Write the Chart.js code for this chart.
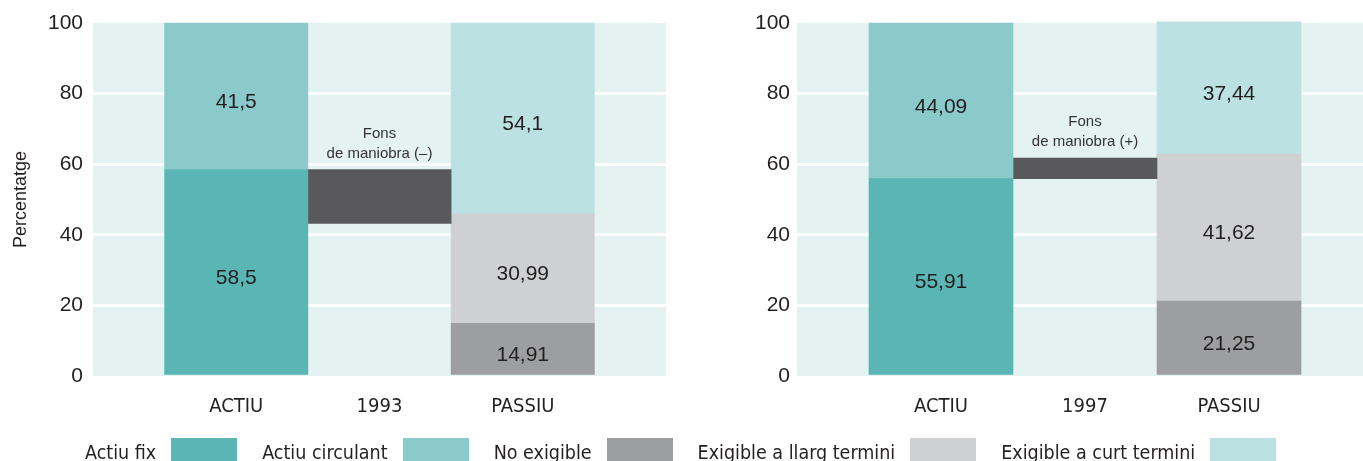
<!DOCTYPE html>
<html>
<head>
<meta charset="utf-8">
<script src="https://cdn.jsdelivr.net/npm/chart.js@4.4.0/dist/chart.umd.min.js"></script>
<style>
html, body { margin:0; padding:0; background:#fff; overflow:hidden; width:1363px; height:461px; }
#c1 { position:absolute; left:0; top:0; }
#c2 { position:absolute; left:700px; top:0; }
#legend { position:absolute; left:85px; top:438px; display:flex; align-items:center;
  font-family:"Liberation Sans Narrow","DejaVu Sans Condensed",sans-serif; font-size:19.5px; color:#231f20; white-space:nowrap; }
.item { display:flex; align-items:center; margin-right:25px; }
.box { width:66px; height:28px; margin-left:15px; }
</style>
</head>
<body>
<canvas id="c1" width="685" height="440"></canvas>
<canvas id="c2" width="692" height="440"></canvas>
<div id="legend"></div>
<script>
// balance sheet structure, two years
var years = ['1993', '1997'];
var sides = ['ACTIU', 'PASSIU'];
var actiuFix = [58.5, 55.91];
var actiuCirculant = [41.5, 44.09];
var noExigible = [14.91, 21.25];
var exigibleLlarg = [30.99, 41.62];
var exigibleCurt = [54.1, 37.44];
var fonsManiobra = [[43.2, 58.5], [55.91, 61.7]];
var fonsSigne = ['(–)', '(+)'];
var yTicks = [0, 20, 40, 60, 80, 100];

var seriesNames = ['Actiu fix', 'Actiu circulant', 'No exigible', 'Exigible a llarg termini', 'Exigible a curt termini'];
var seriesColors = ['#5ab5b5', '#8acaca', '#9d9e9f', '#cfd0d2', '#bce1e2'];
var fonsColor = '#59595b';

var textColor = '#231f20';
var narrow = '"Liberation Sans Narrow","DejaVu Sans Condensed",sans-serif';
var sans = '"Liberation Sans",Arial,sans-serif';

function slot(value, pos){
    var d = [null, null, null, null, null];
    d[pos] = value;
    return d;
}

function fmt(v){
    return String(v).replace('.', ',');
}

var bgPlugin = {
    id: 'bg',
    beforeDraw: function(chart){
        var a = chart.chartArea, ctx = chart.ctx;
        ctx.save();
        ctx.fillStyle = '#e4f2f2';
        ctx.fillRect(a.left, a.top, a.right - a.left, a.bottom - a.top);
        ctx.restore();
    }
};

var labelPlugin = {
    id: 'labels',
    afterDatasetsDraw: function(chart){
        var ctx = chart.ctx;
        ctx.save();
        ctx.fillStyle = textColor;
        ctx.textAlign = 'center';
        ctx.textBaseline = 'middle';
        chart.data.datasets.forEach(function(ds, di){
            var meta = chart.getDatasetMeta(di);
            meta.data.forEach(function(el, i){
                var v = ds.data[i];
                if (v === null) return;
                if (ds.fons) {
                    var top = Math.min(el.y, el.base);
                    ctx.font = '15px ' + sans;
                    ctx.fillStyle = '#333';
                    ctx.fillText('Fons', el.x, top - 36);
                    ctx.fillText('de maniobra ' + ds.signe, el.x, top - 16);
                    ctx.fillStyle = textColor;
                } else {
                    ctx.font = '21px ' + sans;
                    ctx.fillText(fmt(v), el.x, (el.y + el.base) / 2 + 6);
                }
            });
        });
        ctx.restore();
    }
};

function makeChart(id, i, yWidth, tickPad, showTitle){
    var datasets = [
        {label: seriesNames[0], data: slot(actiuFix[i], 1), backgroundColor: seriesColors[0]},
        {label: seriesNames[1], data: slot(actiuCirculant[i], 1), backgroundColor: seriesColors[1]},
        {label: 'Fons de maniobra', data: slot(fonsManiobra[i], 2), backgroundColor: fonsColor, fons: true, signe: fonsSigne[i]},
        {label: seriesNames[2], data: slot(noExigible[i], 3), backgroundColor: seriesColors[2]},
        {label: seriesNames[3], data: slot(exigibleLlarg[i], 3), backgroundColor: seriesColors[3]},
        {label: seriesNames[4], data: slot(exigibleCurt[i], 3), backgroundColor: seriesColors[4]}
    ];
    return new Chart(document.getElementById(id), {
        type: 'bar',
        data: {labels: ['', sides[0], years[i], sides[1], ''], datasets: datasets},
        plugins: [bgPlugin, labelPlugin],
        options: {
            responsive: false,
            animation: false,
            layout: {padding: {top: 23, right: 0, left: 0, bottom: 0}},
            plugins: {legend: {display: false}, tooltip: {enabled: false}},
            datasets: {bar: {barPercentage: 1, categoryPercentage: 1, clip: false}},
            scales: {
                x: {
                    stacked: true,
                    offset: false,
                    grid: {display: false, drawTicks: false},
                    border: {display: false},
                    ticks: {font: {family: narrow, size: 20}, color: textColor, padding: 19, autoSkip: false, maxRotation: 0},
                    afterFit: function(s){ s.height = 64; }
                },
                y: {
                    stacked: true,
                    min: 0,
                    max: 100,
                    afterBuildTicks: function(s){ s.ticks = yTicks.map(function(v){ return {value: v}; }); },
                    ticks: {font: {family: sans, size: 21}, color: textColor, padding: tickPad},
                    grid: {
                        color: function(c){ return (c.tick && (c.tick.value === 0 || c.tick.value === 100)) ? 'rgba(0,0,0,0)' : '#ffffff'; },
                        lineWidth: 3,
                        drawTicks: false
                    },
                    border: {display: false},
                    title: {display: showTitle, text: 'Percentatge', font: {family: sans, size: 18}, color: textColor, padding: {top: 10, bottom: 0}},
                    afterFit: function(s){ s.width = yWidth; }
                }
            }
        }
    });
}

makeChart('c1', 0, 93, 10, true);
makeChart('c2', 1, 97, 7, false);

// legend row
var leg = document.getElementById('legend');
seriesNames.forEach(function(name, k){
    var item = document.createElement('div');
    item.className = 'item';
    var t = document.createElement('span');
    t.textContent = name;
    var b = document.createElement('span');
    b.className = 'box';
    b.style.background = seriesColors[k];
    item.appendChild(t);
    item.appendChild(b);
    leg.appendChild(item);
});
</script>
</body>
</html>
